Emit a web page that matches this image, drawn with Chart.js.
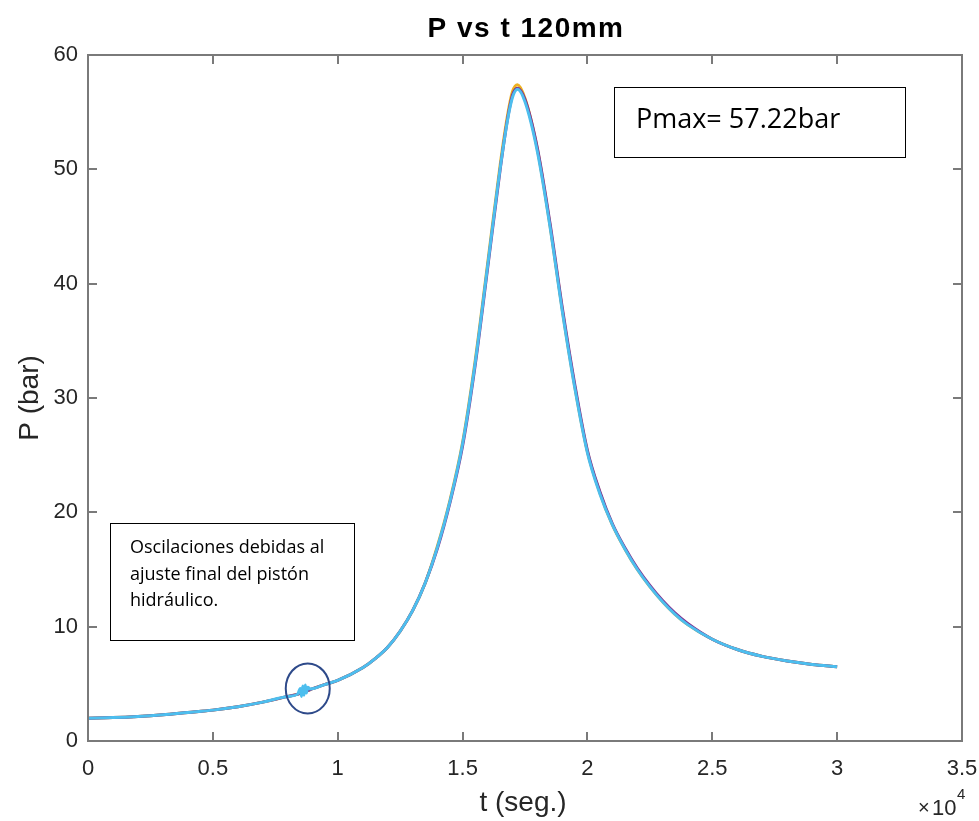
<!DOCTYPE html>
<html>
<head>
<meta charset="utf-8">
<script src="https://cdn.jsdelivr.net/npm/chart.js@4.4.0/dist/chart.umd.min.js"></script>
<style>
  html, body { margin: 0; padding: 0; background: #fff; }
  #wrap { width: 979px; height: 821px; }
</style>
</head>
<body>
<div id="wrap"><canvas id="myChart" width="979" height="821"></canvas></div>
<script>
// time (s)
const tSeg = [0, 1000, 2000, 3000, 4000, 5000, 6000, 7000, 8000, 8400, 8500, 8550, 8600, 8650,
  8700, 8750, 8800, 8900, 9500, 10000, 11000, 11500, 12000, 12500, 13000, 13500, 14000, 14500, 15000,
  15500, 16000, 16500, 16800, 17000, 17200, 17500, 18000, 18500, 19000, 19500,
  20000, 20500, 21000, 21500, 22000, 22500, 23000, 23500, 24000, 25000, 26000, 27000,
  28000, 29000, 30000];

// pressure (bar), one array per run
const pCyan = [2.0, 2.05, 2.15, 2.3, 2.5, 2.7, 3.0, 3.4, 3.9, 4.1, 4.6, 3.9, 4.8, 4.0,
  4.9, 4.2, 4.7, 4.55, 4.95, 5.3, 6.4, 7.2, 8.2, 9.6, 11.4, 13.8, 17.0, 21.0, 26.0,
  33.0, 41.5, 50.0, 54.3, 56.3, 57.0, 55.9, 51.5, 45.0, 37.5, 30.8,
  25.2, 21.6, 18.9, 16.8, 15.0, 13.5, 12.2, 11.1, 10.2, 8.9, 8.0, 7.4,
  7.0, 6.7, 6.5];
const pPurple = [2.0, 2.05, 2.15, 2.3, 2.5, 2.7, 3.0, 3.4, 3.9, 4.1, 4.2, 4.22, 4.25, 4.28,
  4.32, 4.36, 4.4, 4.5, 4.95, 5.3, 6.4, 7.2, 8.2, 9.6, 11.4, 13.8, 16.9, 20.9, 25.8,
  32.8, 41.3, 49.9, 54.4, 56.5, 57.1, 56.1, 51.8, 45.3, 37.8, 31.1,
  25.4, 21.8, 19.0, 16.9, 15.1, 13.6, 12.3, 11.2, 10.3, 8.9, 8.0, 7.4,
  7.0, 6.7, 6.5];
const pOrange = [2.0, 2.05, 2.15, 2.3, 2.5, 2.7, 3.0, 3.4, 3.9, 4.1, 4.2, 4.22, 4.25, 4.28,
  4.32, 4.36, 4.4, 4.5, 4.95, 5.3, 6.4, 7.2, 8.2, 9.6, 11.4, 13.8, 17.1, 21.1, 26.1,
  33.2, 41.7, 50.3, 54.7, 56.8, 57.4, 56.2, 51.7, 45.1, 37.6, 30.9,
  25.3, 21.7, 18.9, 16.8, 15.0, 13.5, 12.2, 11.1, 10.2, 8.9, 8.0, 7.4,
  7.0, 6.7, 6.5];

const xTicks = [0, 5000, 10000, 15000, 20000, 25000, 30000, 35000];
const yTicks = [0, 10, 20, 30, 40, 50, 60];

const axisColor = "#262626";
const tickFont = { family: "Liberation Sans, Arial, sans-serif", size: 22 };

function pts(arr) {
  return tSeg.map((t, i) => ({ x: t, y: arr[i] }));
}

const boxPlugin = {
  id: "boxPlugin",
  afterDraw(chart) {
    const ctx = chart.ctx;
    const a = chart.chartArea;
    const xs = chart.scales.x;
    const ys = chart.scales.y;
    ctx.save();
    // axes box
    ctx.strokeStyle = "#7a7a7a";
    ctx.lineWidth = 2;
    ctx.strokeRect(a.left, a.top, a.right - a.left, a.bottom - a.top);
    // inner ticks on all four sides
    ctx.beginPath();
    xTicks.forEach((v) => {
      const px = Math.round(xs.getPixelForValue(v));
      ctx.moveTo(px, a.bottom); ctx.lineTo(px, a.bottom - 9);
      ctx.moveTo(px, a.top); ctx.lineTo(px, a.top + 9);
    });
    yTicks.forEach((v) => {
      const py = Math.round(ys.getPixelForValue(v));
      ctx.moveTo(a.left, py); ctx.lineTo(a.left + 9, py);
      ctx.moveTo(a.right, py); ctx.lineTo(a.right - 9, py);
    });
    ctx.stroke();

    // title
    ctx.fillStyle = "#000";
    ctx.textAlign = "center";
    ctx.textBaseline = "alphabetic";
    ctx.font = "bold 28px Liberation Sans, Arial, sans-serif";
    ctx.letterSpacing = "1.5px";
    ctx.fillText("P vs t 120mm", (a.left + a.right) / 2 + 1, 37);
    ctx.letterSpacing = "0px";

    // axis labels
    ctx.fillStyle = axisColor;
    ctx.font = "28px Liberation Sans, Arial, sans-serif";
    ctx.fillText("t (seg.)", 523, 811);
    ctx.save();
    ctx.translate(38, (a.top + a.bottom) / 2);
    ctx.rotate(-Math.PI / 2);
    ctx.fillText("P (bar)", 0, 0);
    ctx.restore();

    // x10^4 multiplier
    ctx.textAlign = "left";
    ctx.font = "20px Liberation Sans, Arial, sans-serif";
    ctx.fillText("\u00d7", 918, 814);
    ctx.font = "22px Liberation Sans, Arial, sans-serif";
    ctx.fillText("10", 932, 815);
    ctx.font = "15px Liberation Sans, Arial, sans-serif";
    ctx.fillText("4", 957, 799);

    // Pmax annotation box
    ctx.fillStyle = "#fff";
    ctx.fillRect(614, 87, 291, 70);
    ctx.strokeStyle = "#000";
    ctx.lineWidth = 1;
    ctx.strokeRect(614.5, 87.5, 291, 70);
    ctx.fillStyle = "#000";
    ctx.font = "27px Open Sans, sans-serif";
    ctx.fillText("Pmax= 57.22bar", 636, 128);

    // oscillation note box
    ctx.fillStyle = "#fff";
    ctx.fillRect(110, 523, 244, 117);
    ctx.strokeRect(110.5, 523.5, 244, 117);
    ctx.fillStyle = "#000";
    ctx.font = "18px Open Sans, sans-serif";
    ctx.fillText("Oscilaciones debidas al", 130, 553);
    ctx.fillText("ajuste final del pist\u00f3n", 130, 580);
    ctx.fillText("hidr\u00e1ulico.", 130, 606);

    // circle around the oscillation
    ctx.strokeStyle = "#2e4a8a";
    ctx.lineWidth = 2;
    ctx.beginPath();
    ctx.ellipse(xs.getPixelForValue(8800), ys.getPixelForValue(4.6), 22, 25, 0, 0, Math.PI * 2);
    ctx.stroke();
    ctx.restore();
  },
};

const ctx = document.getElementById("myChart").getContext("2d");
const chart = new Chart(ctx, {
  type: "line",
  data: {
    datasets: [
      { label: "run 3", data: pts(pCyan), borderColor: "#4DBEEE", borderWidth: 3 },
      { label: "run 2", data: pts(pPurple), borderColor: "#7E2F8E", borderWidth: 3 },
      { label: "run 1", data: pts(pOrange), borderColor: "#EDB120", borderWidth: 3 },
    ],
  },
  options: {
    responsive: false,
    animation: false,
    layout: { padding: { left: 0, top: 55, right: 17, bottom: 0 } },
    elements: {
      point: { radius: 0 },
      line: { cubicInterpolationMode: "monotone", fill: false },
    },
    plugins: { legend: { display: false }, tooltip: { enabled: false }, title: { display: false } },
    scales: {
      x: {
        type: "linear",
        min: 0,
        max: 35000,
        afterFit: (s) => { s.height = 80; s.paddingLeft = 0; s.paddingRight = 0; },
        afterBuildTicks: (s) => { s.ticks = xTicks.map((v) => ({ value: v })); },
        grid: { display: false },
        border: { display: false },
        ticks: {
          color: axisColor,
          font: tickFont,
          padding: 7,
          maxRotation: 0,
          callback: (v) => String(v / 10000),
        },
      },
      y: {
        type: "linear",
        min: 0,
        max: 60,
        afterFit: (s) => { s.width = 88; s.paddingTop = 0; s.paddingBottom = 0; },
        afterBuildTicks: (s) => { s.ticks = yTicks.map((v) => ({ value: v })); },
        grid: { display: false },
        border: { display: false },
        ticks: { color: axisColor, font: tickFont, padding: 2 },
      },
    },
  },
  plugins: [boxPlugin],
});
</script>
</body>
</html>
